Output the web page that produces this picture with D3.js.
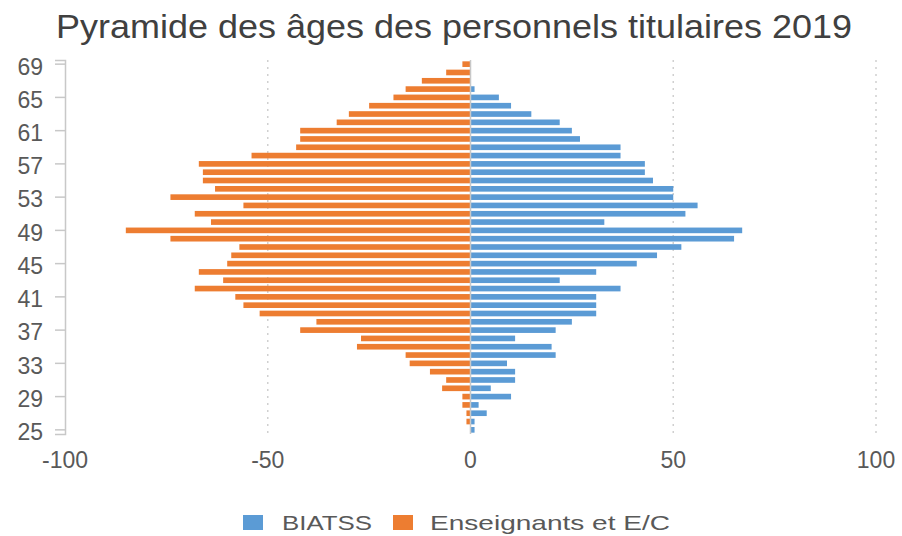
<!DOCTYPE html>
<html lang="fr">
<head>
<meta charset="UTF-8">
<title>Pyramide des âges</title>
<style>
  body { margin: 0; background: #fff; }
  svg text { font-family: "Liberation Sans", Arial, sans-serif; fill: #595959; }
</style>
</head>
<body>
<svg id="chart" width="902" height="536"></svg>
<script src="https://d3js.org/d3.v7.min.js"></script>
<script>
// ages 25 -> 69
const ages = [25, 26, 27, 28, 29, 30, 31, 32, 33, 34, 35, 36, 37, 38, 39, 40, 41, 42, 43, 44, 45, 46, 47,
              48, 49, 50, 51, 52, 53, 54, 55, 56, 57, 58, 59, 60, 61, 62, 63, 64, 65, 66, 67, 68, 69];
const biatss = [1, 1, 4, 2, 10, 5, 11, 11, 9, 21, 20, 11, 21, 25, 31, 31, 31, 37, 22, 31, 41, 46, 52,
                65, 67, 33, 53, 56, 50, 50, 45, 43, 43, 37, 37, 27, 25, 22, 15, 10, 7, 1, 0, 0, 0];
const enseignants = [0, 1, 1, 2, 2, 7, 6, 10, 15, 16, 28, 27, 42, 38, 52, 56, 58, 68, 61, 67, 60, 59, 57,
                     74, 85, 64, 68, 56, 74, 63, 66, 66, 67, 54, 43, 42, 42, 33, 30, 25, 19, 16, 12, 6, 2];
const ageTicks = [25, 29, 33, 37, 41, 45, 49, 53, 57, 61, 65, 69];
const xTicks = [-100, -50, 0, 50, 100];
const seriesNames = ["BIATSS", "Enseignants et E/C"];
const colors = ["#5b9bd5", "#ed7d31"];

const svg = d3.select("#chart");

const x = d3.scaleLinear().domain([-100, 100]).range([65, 876]);
const y = d3.scaleBand().domain(ages.slice().reverse()).range([60, 434]).paddingInner(0.32).paddingOuter(0.16);

// title
svg.append("text")
    .attr("x", 454).attr("y", 38)
    .attr("text-anchor", "middle")
    .attr("textLength", 796).attr("lengthAdjust", "spacingAndGlyphs")
    .style("font-size", "33px").style("fill", "#404040")
    .text("Pyramide des âges des personnels titulaires 2019");

// dotted gridlines
svg.append("g").selectAll("line")
    .data([-50, 50, 100])
    .enter().append("line")
    .attr("x1", d => x(d)).attr("x2", d => x(d))
    .attr("y1", 60).attr("y2", 434)
    .attr("stroke", "#d0d0d0").attr("stroke-width", 1.5)
    .attr("stroke-dasharray", "2,5");

// bars
const rows = ages.map((a, i) => ({age: a, b: biatss[i], e: enseignants[i]}));

svg.append("g").selectAll("rect")
    .data(rows)
    .enter().append("rect")
    .attr("x", d => x(-d.e)).attr("width", d => x(0) - x(-d.e))
    .attr("y", d => y(d.age)).attr("height", y.bandwidth())
    .attr("fill", colors[1]);

svg.append("g").selectAll("rect")
    .data(rows)
    .enter().append("rect")
    .attr("x", x(0)).attr("width", d => x(d.b) - x(0))
    .attr("y", d => y(d.age)).attr("height", y.bandwidth())
    .attr("fill", colors[0]);

// zero line and category axis line
svg.append("line")
    .attr("x1", x(0)).attr("x2", x(0)).attr("y1", 60).attr("y2", 434)
    .attr("stroke", "#c8c8c8").attr("stroke-width", 1.5);

const yAxis = svg.append("g")
    .attr("transform", `translate(${x(-100)},0)`)
    .call(d3.axisLeft(y).tickValues(ageTicks).tickSize(10).tickPadding(12));
yAxis.select(".domain").attr("stroke", "#c8c8c8").attr("stroke-width", 1.5);
yAxis.selectAll(".tick line").attr("stroke", "#c8c8c8").attr("stroke-width", 1.5);
yAxis.selectAll(".tick text")
    .attr("dy", "0.45em")
    .style("font-size", "23px").style("fill", "#595959");

// x labels
svg.append("g").selectAll("text")
    .data(xTicks)
    .enter().append("text")
    .attr("x", d => x(d)).attr("y", 468)
    .attr("text-anchor", "middle")
    .style("font-size", "23px")
    .text(d => d);

// legend
const legend = [
  {name: seriesNames[0], color: colors[0], sx: 243, tx: 282, w: 90},
  {name: seriesNames[1], color: colors[1], sx: 393, tx: 430, w: 240}
];
const lg = svg.append("g").selectAll("g").data(legend).enter().append("g");
lg.append("rect")
    .attr("x", d => d.sx).attr("y", 515)
    .attr("width", 20).attr("height", 15)
    .attr("fill", d => d.color);
lg.append("text")
    .attr("x", d => d.tx).attr("y", 530)
    .attr("textLength", d => d.w).attr("lengthAdjust", "spacingAndGlyphs")
    .style("font-size", "21px")
    .text(d => d.name);
</script>
</body>
</html>
